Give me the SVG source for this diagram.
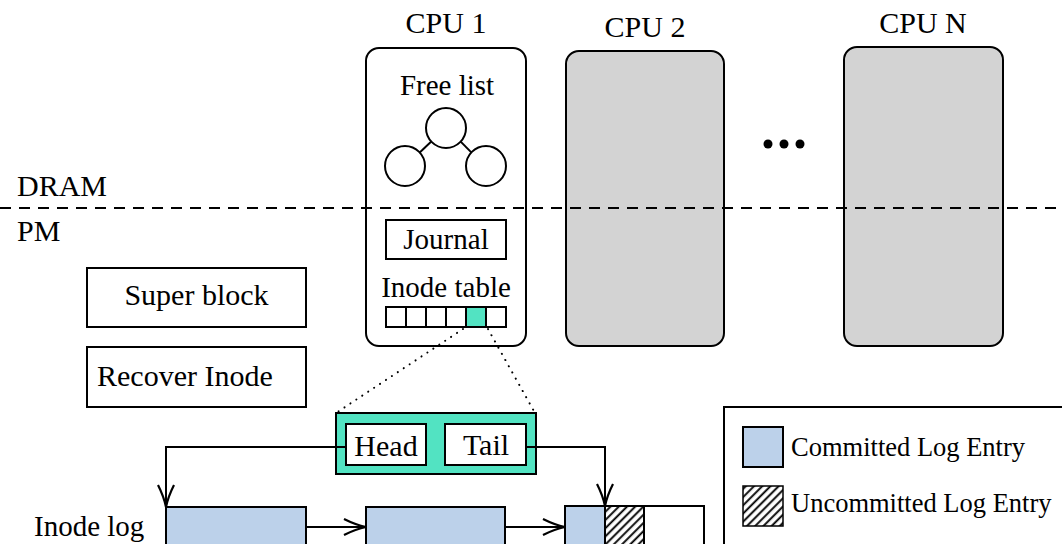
<svg xmlns="http://www.w3.org/2000/svg" width="1062" height="544" viewBox="0 0 1062 544">
<style>
text{font-family:"Liberation Serif","Times New Roman",serif;fill:#000}
.c{text-anchor:middle}
.lbl{font-size:30px}
.in{font-size:29px}
.lg{font-size:26.5px}
.box{fill:#fff;stroke:#000;stroke-width:2}
.cpu{stroke:#000;stroke-width:2}
.blue{fill:#bcd1ea;stroke:#000;stroke-width:2}
.teal{fill:#52e3c2;stroke:#000;stroke-width:2}
.ln{fill:none;stroke:#000;stroke-width:2}
.dot{fill:none;stroke:#000;stroke-width:2;stroke-dasharray:0.1 7;stroke-linecap:round}
</style>
<defs>
<marker id="arr" markerUnits="userSpaceOnUse" markerWidth="30" markerHeight="24" refX="22" refY="10" orient="auto" overflow="visible">
<path d="M0 2 Q12 8 22 10 Q12 12 0 18" fill="none" stroke="#000" stroke-width="2.2"/>
</marker>
<pattern id="hatch" patternUnits="userSpaceOnUse" width="5.8" height="5.8" patternTransform="rotate(45)">
<rect width="5.8" height="5.8" fill="#fff"/>
<line x1="1.2" y1="-1" x2="1.2" y2="7" stroke="#000" stroke-width="1.9"/>
</pattern>
</defs>

<g id="cpu1">
<text class="lbl c" x="446" y="33">CPU 1</text>
<rect class="cpu" x="366" y="48" width="160" height="298" rx="13" fill="#fff"/>
<text class="in c" x="447" y="95">Free list</text>
<circle class="ln" cx="446" cy="128" r="20"/>
<circle class="ln" cx="405" cy="166" r="20"/>
<circle class="ln" cx="486" cy="166" r="20"/>
<line class="ln" x1="431.3" y1="141.6" x2="419.7" y2="152.4"/>
<line class="ln" x1="460.7" y1="141.6" x2="471.3" y2="152.4"/>
</g>

<g id="journal">
<rect class="box" x="386" y="220" width="120" height="39"/>
<text class="in c" x="446" y="249">Journal</text>
</g>

<g id="inode-table">
<text class="in c" x="446" y="297">Inode table</text>
<rect class="box" x="386" y="307" width="120" height="20"/>
<rect class="teal" x="466" y="307" width="20" height="20"/>
<line class="ln" x1="406" y1="307" x2="406" y2="327"/>
<line class="ln" x1="426" y1="307" x2="426" y2="327"/>
<line class="ln" x1="446" y1="307" x2="446" y2="327"/>
</g>

<g id="cpu2">
<text class="lbl c" x="645" y="37">CPU 2</text>
<rect class="cpu" x="566" y="51" width="158" height="295" rx="13" fill="#d3d3d3"/>
</g>

<g id="ellipsis">
<circle cx="768" cy="144" r="4.5" fill="#000"/>
<circle cx="784" cy="144" r="4.5" fill="#000"/>
<circle cx="800" cy="144" r="4.5" fill="#000"/>
</g>

<g id="cpuN">
<text class="lbl c" x="923" y="33">CPU N</text>
<rect class="cpu" x="844" y="47" width="159" height="299" rx="13" fill="#d3d3d3"/>
</g>

<g id="layer-divider">
<line x1="0" y1="208" x2="1062" y2="208" stroke="#000" stroke-width="2" stroke-dasharray="11 8"/>
<text class="lbl" x="17" y="196">DRAM</text>
<text class="lbl" x="17" y="241">PM</text>
</g>

<g id="super-block">
<rect class="box" x="87" y="268" width="219" height="59"/>
<text class="lbl c" x="196.5" y="305">Super block</text>
</g>

<g id="recover-inode">
<rect class="box" x="87" y="347" width="219" height="60"/>
<text class="lbl" x="97" y="386">Recover Inode</text>
</g>

<g id="inode-header">
<rect class="teal" x="336" y="413" width="200" height="61"/>
<rect class="box" x="346" y="424" width="80" height="41"/>
<text class="lbl c" x="386" y="456">Head</text>
<rect class="box" x="445" y="424" width="81" height="41"/>
<text class="lbl c" x="486" y="455">Tail</text>
</g>

<g id="inode-log">
<text class="in" x="34" y="536">Inode log</text>
<rect class="blue" x="166" y="507" width="140" height="60"/>
<rect class="blue" x="366" y="507" width="139" height="60"/>
<rect class="box" x="565" y="506" width="139" height="60"/>
<rect class="blue" x="565" y="506" width="40" height="60"/>
<rect x="605" y="506" width="39" height="60" fill="url(#hatch)" stroke="#000" stroke-width="2"/>
</g>

<g id="legend">
<rect class="box" x="724" y="407" width="400" height="200"/>
<rect class="blue" x="743" y="427" width="40" height="40"/>
<text class="lg" x="791" y="456">Committed Log Entry</text>
<rect x="743" y="486" width="40" height="40" fill="url(#hatch)" stroke="#000" stroke-width="1.5"/>
<text class="lg" x="791" y="512">Uncommitted Log Entry</text>
</g>

<g id="connectors">
<line class="dot" x1="463" y1="329" x2="336" y2="413"/>
<line class="dot" x1="488" y1="329" x2="535" y2="413"/>
<path class="ln" d="M346 447 H166 V507" marker-end="url(#arr)"/>
<path class="ln" d="M526 447 H605 V506" marker-end="url(#arr)"/>
<line class="ln" x1="306" y1="527" x2="366" y2="527" marker-end="url(#arr)"/>
<line class="ln" x1="505" y1="527" x2="565" y2="527" marker-end="url(#arr)"/>
</g>
</svg>
